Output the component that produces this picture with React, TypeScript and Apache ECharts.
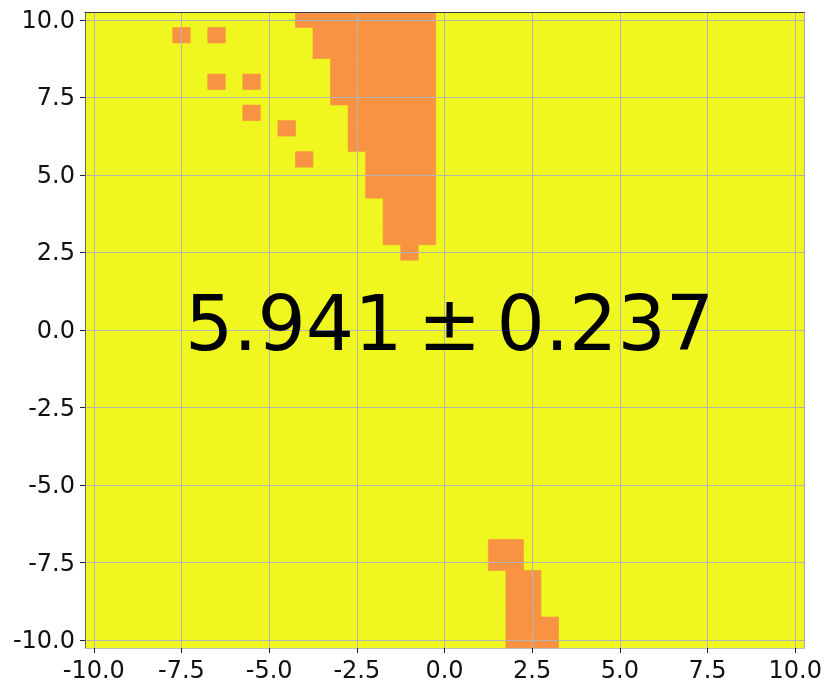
import React, { useEffect, useRef } from 'react';
import * as echarts from 'echarts';

// tick labels shared by both axes
const tickValues = [-10, -7.5, -5, -2.5, 0, 2.5, 5, 7.5, 10];
const axisMin = -10.25;
const axisMax = 10.25;
const cellHalf = 0.25;

// orange cells, grouped by row: [y, first x, last x]
const orangeRows: number[][] = [
  [9.5, -7.5, -7.5],
  [9.5, -6.5, -6.5],
  [8.0, -6.5, -6.5],
  [8.0, -5.5, -5.5],
  [7.0, -5.5, -5.5],
  [6.5, -4.5, -4.5],
  [5.5, -4.0, -4.0],
  [10.0, -4.0, -0.5],
  [9.5, -3.5, -0.5],
  [9.0, -3.5, -0.5],
  [8.5, -3.0, -0.5],
  [8.0, -3.0, -0.5],
  [7.5, -3.0, -0.5],
  [7.0, -2.5, -0.5],
  [6.5, -2.5, -0.5],
  [6.0, -2.5, -0.5],
  [5.5, -2.0, -0.5],
  [5.0, -2.0, -0.5],
  [4.5, -2.0, -0.5],
  [4.0, -1.5, -0.5],
  [3.5, -1.5, -0.5],
  [3.0, -1.5, -0.5],
  [2.5, -1.0, -1.0],
  [-7.0, 1.5, 2.0],
  [-7.5, 1.5, 2.0],
  [-8.0, 2.0, 2.5],
  [-8.5, 2.0, 2.5],
  [-9.0, 2.0, 2.5],
  [-9.5, 2.0, 3.0],
  [-10.0, 2.0, 3.0],
];

const scoreMean = 5.941;
const scoreStd = 0.237;

const YELLOW = '#f0f720';
const ORANGE = '#f79342';
const FONT = 'DejaVu Sans';

export default function App() {
  const ref = useRef<HTMLDivElement>(null);

  useEffect(() => {
    if (!ref.current) return;
    const chart = echarts.init(ref.current, undefined, { renderer: 'svg' });

    const mainAxis = (pos: string, isX: boolean) => ({
      type: 'value',
      position: pos,
      min: axisMin,
      max: axisMax,
      z: 3,
      axisLine: {
        show: true,
        onZero: false,
        lineStyle: { color: isX ? '#bbbbbb' : '#666666', width: 1 },
      },
      axisTick: {
        show: true,
        customValues: tickValues,
        length: 5,
        lineStyle: { color: '#222222', width: 1 },
      },
      axisLabel: {
        show: true,
        customValues: tickValues,
        margin: 10,
        color: '#111111',
        fontFamily: FONT,
        fontSize: 24,
        formatter: (v: number) => v.toFixed(1),
      },
      splitLine: {
        show: true,
        lineStyle: { color: '#b4b4b4', width: 1 },
      },
    });

    const edgeAxis = (pos: string, color: string) => ({
      type: 'value',
      position: pos,
      min: axisMin,
      max: axisMax,
      z: 4,
      axisLine: { show: true, onZero: false, lineStyle: { color, width: 1 } },
      axisTick: { show: false },
      axisLabel: { show: false },
      splitLine: { show: false },
    });

    chart.setOption({
      animation: false,
      grid: {
        left: 85,
        top: 12,
        width: 719,
        height: 636,
        show: true,
        backgroundColor: YELLOW,
        borderWidth: 0,
      },
      xAxis: [mainAxis('bottom', true), edgeAxis('top', '#3a3a3a')],
      yAxis: [mainAxis('left', false), edgeAxis('right', '#a8a8a8')],
      series: [
        {
          type: 'custom',
          xAxisIndex: 0,
          yAxisIndex: 0,
          clip: true,
          z: 2,
          dimensions: ['y', 'x0', 'x1'],
          encode: { x: [1, 2], y: 0 },
          data: orangeRows,
          renderItem: (_params: any, api: any) => {
            const y = api.value(0);
            const x0 = api.value(1);
            const x1 = api.value(2);
            const p0 = api.coord([x0 - cellHalf, y + cellHalf]);
            const p1 = api.coord([x1 + cellHalf, y - cellHalf]);
            return {
              type: 'rect',
              shape: {
                x: p0[0],
                y: p0[1],
                width: p1[0] - p0[0],
                height: p1[1] - p0[1],
              },
              style: { fill: ORANGE, stroke: ORANGE, lineWidth: 0.6 },
            };
          },
        },
      ],
      graphic: [
        {
          type: 'text',
          left: 185,
          top: 285,
          z: 10,
          style: {
            text: `${scoreMean.toFixed(3)}\u2009\u00b1\u2009${scoreStd.toFixed(3)}`,
            fill: '#000000',
            font: `76px "${FONT}"`,
          },
        },
      ],
    });

    return () => chart.dispose();
  }, []);

  return (
    <div
      ref={ref}
      style={{ position: 'fixed', left: 0, top: 0, width: 830, height: 690 }}
    />
  );
}
